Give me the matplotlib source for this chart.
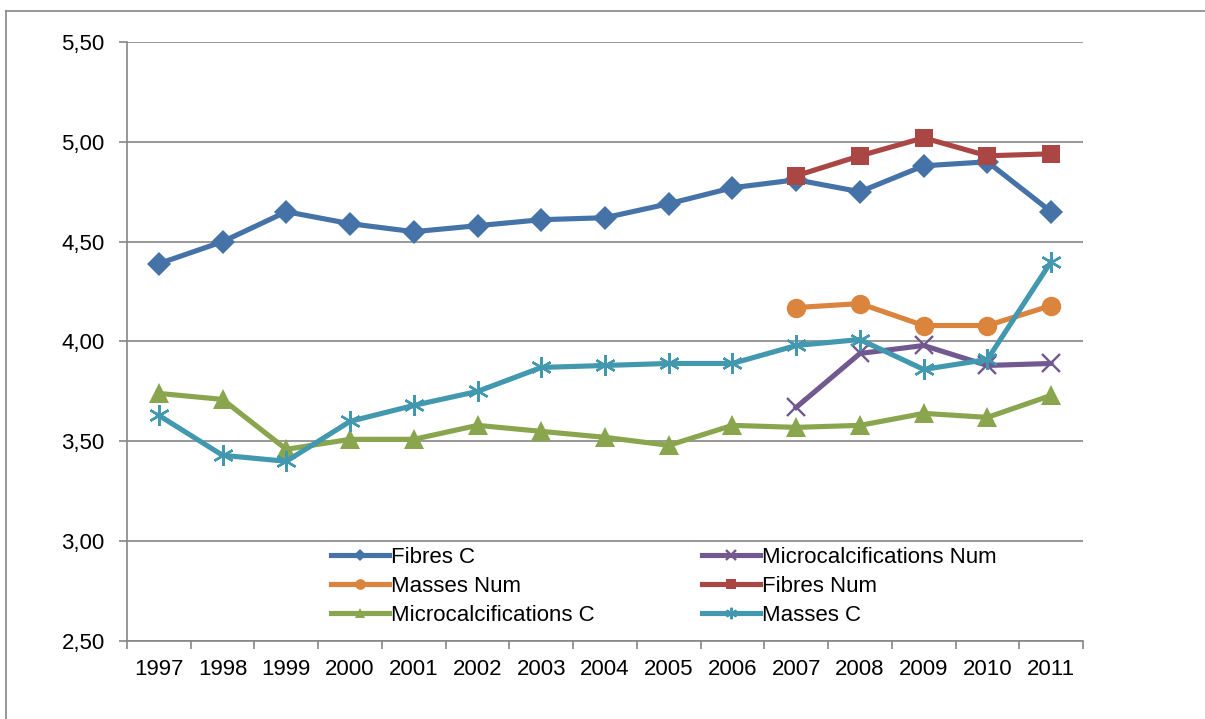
import matplotlib
matplotlib.use("Agg")
import matplotlib.pyplot as plt
from matplotlib.lines import Line2D
import numpy as np

plt.rcParams["font.family"] = ["Liberation Sans", "DejaVu Sans"]

years = ["1997", "1998", "1999", "2000", "2001", "2002", "2003", "2004",
         "2005", "2006", "2007", "2008", "2009", "2010", "2011"]

fibres_c = [4.39, 4.50, 4.65, 4.59, 4.55, 4.58, 4.61, 4.62, 4.69, 4.77,
            4.81, 4.75, 4.88, 4.90, 4.65]
masses_c = [3.63, 3.43, 3.40, 3.60, 3.68, 3.75, 3.87, 3.88, 3.89, 3.89,
            3.98, 4.01, 3.86, 3.91, 4.40]
microcalc_c = [3.74, 3.71, 3.46, 3.51, 3.51, 3.58, 3.55, 3.52, 3.48, 3.58,
               3.57, 3.58, 3.64, 3.62, 3.73]

# numerical series start in 2007
num_years = ["2007", "2008", "2009", "2010", "2011"]
fibres_num = [4.83, 4.93, 5.02, 4.93, 4.94]
masses_num = [4.17, 4.19, 4.08, 4.08, 4.18]
microcalc_num = [3.67, 3.94, 3.98, 3.88, 3.89]

y_ticks = [2.50, 3.00, 3.50, 4.00, 4.50, 5.00, 5.50]

FS = 16

fig = plt.figure(figsize=(12.05, 7.19), dpi=100)
ax = fig.add_axes([127 / 1205, 1 - 641 / 719, (1083 - 127) / 1205, (641 - 42) / 719])

# outer chart frame (left and top edges visible)
fig.add_artist(Line2D([6 / 1205, 6 / 1205], [1 - 11 / 719, 0], color="#868686",
                      lw=1.2, transform=fig.transFigure))
fig.add_artist(Line2D([6 / 1205, 1], [1 - 11 / 719, 1 - 11 / 719], color="#868686",
                      lw=1.2, transform=fig.transFigure))

x = np.arange(len(years))
xn = np.array([years.index(y) for y in num_years])

lw = 3.7
series = [
    ("Fibres C", x, fibres_c, "#4572A7", "D", 12),
    ("Microcalcifications Num", xn, microcalc_num, "#71588F", "x", 13),
    ("Masses Num", xn, masses_num, "#DB843D", "o", 14),
    ("Fibres Num", xn, fibres_num, "#AA4643", "s", 13),
    ("Microcalcifications C", x, microcalc_c, "#89A54E", "^", 14),
    ("Masses C", x, masses_c, "#4198AF", (6, 2, 0), 15),
]

handles = {}
for name, xs, ys, col, mk, ms in series:
    kw = dict(color=col, lw=lw, marker=mk, markersize=ms, markerfacecolor=col,
              markeredgecolor=col, solid_joinstyle="round", zorder=3)
    if mk == "x" or isinstance(mk, tuple):
        kw["markeredgewidth"] = 1.7
    else:
        kw["markeredgewidth"] = 0
    line, = ax.plot(xs, ys, label=name, **kw)
    handles[name] = line

ax.set_xlim(-0.5, len(years) - 0.5)
ax.set_ylim(2.5, 5.5)
ax.set_yticks(y_ticks)
ax.set_yticklabels([f"{v:.2f}".replace(".", ",") for v in y_ticks], fontsize=FS)
ax.yaxis.grid(True, color="#868686", lw=1.2)
ax.set_axisbelow(True)

ax.set_xticks(x)
ax.set_xticklabels(years, fontsize=FS)
ax.set_xticks(np.arange(len(years) + 1) - 0.5, minor=True)
ax.tick_params(axis="x", which="major", length=0, pad=13)
ax.tick_params(axis="x", which="minor", length=6, color="#868686", width=1.2)
ax.tick_params(axis="y", length=6, color="#868686", width=1.2, pad=10)

for s in ["top", "right"]:
    ax.spines[s].set_visible(False)
for s in ["left", "bottom"]:
    ax.spines[s].set_color("#868686")
    ax.spines[s].set_linewidth(1.2)

order = ["Fibres C", "Masses Num", "Microcalcifications C",
         "Microcalcifications Num", "Fibres Num", "Masses C"]
leg = ax.legend([handles[n] for n in order], order, ncol=2, frameon=False,
                loc="upper left", bbox_to_anchor=(204 / 956, 1 - 505 / 599),
                fontsize=FS, handlelength=2.6, handletextpad=0.08,
                columnspacing=4.85, labelspacing=0.36, markerscale=0.55,
                borderaxespad=0, borderpad=0)

fig.savefig("out.png", dpi=100, facecolor="white")
